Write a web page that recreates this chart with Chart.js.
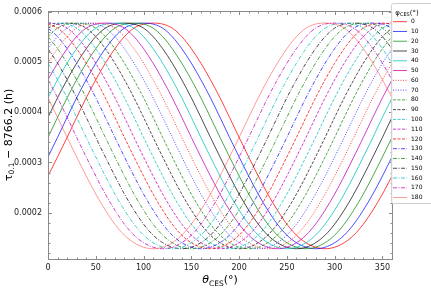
<!DOCTYPE html>
<html>
<head>
<meta charset="utf-8">
<script src="https://cdn.jsdelivr.net/npm/chart.js@4.4.1/dist/chart.umd.min.js"></script>
<style>
  html, body { margin: 0; padding: 0; background: #fff; }
  #wrap { width: 431px; height: 288px; }
</style>
</head>
<body>
<div id="wrap"><canvas id="chart"></canvas></div>
<script>
// theta_CES (deg) sample points
const theta = [0,10,20,30,40,50,60,70,80,90,100,110,120,130,140,150,160,170,180,
  190,200,210,220,230,240,250,260,270,280,290,300,310,320,330,340,350,360];

// phi_CES legend labels (deg)
const phiLabels = ['0','10','20','30','40','50','60','70','80','90','100','110','120','130','140','150','160','170','180'];

// tau_0.1 - 8766.2 (h), one array per phi_CES
const tau0 = [2.73e-4,3.11e-4,3.50e-4,3.90e-4,4.29e-4,4.65e-4,4.98e-4,5.27e-4,5.51e-4,5.68e-4,5.76e-4,5.78e-4,5.76e-4,5.68e-4,5.51e-4,5.27e-4,4.98e-4,4.65e-4,4.29e-4,3.90e-4,3.50e-4,3.11e-4,2.73e-4,2.37e-4,2.05e-4,1.77e-4,1.55e-4,1.40e-4,1.31e-4,1.28e-4,1.31e-4,1.40e-4,1.55e-4,1.77e-4,2.05e-4,2.37e-4,2.73e-4];
const tau10 = [3.11e-4,3.50e-4,3.90e-4,4.29e-4,4.65e-4,4.98e-4,5.27e-4,5.51e-4,5.68e-4,5.76e-4,5.78e-4,5.76e-4,5.68e-4,5.51e-4,5.27e-4,4.98e-4,4.65e-4,4.29e-4,3.90e-4,3.50e-4,3.11e-4,2.73e-4,2.37e-4,2.05e-4,1.77e-4,1.55e-4,1.40e-4,1.31e-4,1.28e-4,1.31e-4,1.40e-4,1.55e-4,1.77e-4,2.05e-4,2.37e-4,2.73e-4,3.11e-4];
const tau20 = [3.50e-4,3.90e-4,4.29e-4,4.65e-4,4.98e-4,5.27e-4,5.51e-4,5.68e-4,5.76e-4,5.78e-4,5.76e-4,5.68e-4,5.51e-4,5.27e-4,4.98e-4,4.65e-4,4.29e-4,3.90e-4,3.50e-4,3.11e-4,2.73e-4,2.37e-4,2.05e-4,1.77e-4,1.55e-4,1.40e-4,1.31e-4,1.28e-4,1.31e-4,1.40e-4,1.55e-4,1.77e-4,2.05e-4,2.37e-4,2.73e-4,3.11e-4,3.50e-4];
const tau30 = [3.90e-4,4.29e-4,4.65e-4,4.98e-4,5.27e-4,5.51e-4,5.68e-4,5.76e-4,5.78e-4,5.76e-4,5.68e-4,5.51e-4,5.27e-4,4.98e-4,4.65e-4,4.29e-4,3.90e-4,3.50e-4,3.11e-4,2.73e-4,2.37e-4,2.05e-4,1.77e-4,1.55e-4,1.40e-4,1.31e-4,1.28e-4,1.31e-4,1.40e-4,1.55e-4,1.77e-4,2.05e-4,2.37e-4,2.73e-4,3.11e-4,3.50e-4,3.90e-4];
const tau40 = [4.29e-4,4.65e-4,4.98e-4,5.27e-4,5.51e-4,5.68e-4,5.76e-4,5.78e-4,5.76e-4,5.68e-4,5.51e-4,5.27e-4,4.98e-4,4.65e-4,4.29e-4,3.90e-4,3.50e-4,3.11e-4,2.73e-4,2.37e-4,2.05e-4,1.77e-4,1.55e-4,1.40e-4,1.31e-4,1.28e-4,1.31e-4,1.40e-4,1.55e-4,1.77e-4,2.05e-4,2.37e-4,2.73e-4,3.11e-4,3.50e-4,3.90e-4,4.29e-4];
const tau50 = [4.65e-4,4.98e-4,5.27e-4,5.51e-4,5.68e-4,5.76e-4,5.78e-4,5.76e-4,5.68e-4,5.51e-4,5.27e-4,4.98e-4,4.65e-4,4.29e-4,3.90e-4,3.50e-4,3.11e-4,2.73e-4,2.37e-4,2.05e-4,1.77e-4,1.55e-4,1.40e-4,1.31e-4,1.28e-4,1.31e-4,1.40e-4,1.55e-4,1.77e-4,2.05e-4,2.37e-4,2.73e-4,3.11e-4,3.50e-4,3.90e-4,4.29e-4,4.65e-4];
const tau60 = [4.98e-4,5.27e-4,5.51e-4,5.68e-4,5.76e-4,5.78e-4,5.76e-4,5.68e-4,5.51e-4,5.27e-4,4.98e-4,4.65e-4,4.29e-4,3.90e-4,3.50e-4,3.11e-4,2.73e-4,2.37e-4,2.05e-4,1.77e-4,1.55e-4,1.40e-4,1.31e-4,1.28e-4,1.31e-4,1.40e-4,1.55e-4,1.77e-4,2.05e-4,2.37e-4,2.73e-4,3.11e-4,3.50e-4,3.90e-4,4.29e-4,4.65e-4,4.98e-4];
const tau70 = [5.27e-4,5.51e-4,5.68e-4,5.76e-4,5.78e-4,5.76e-4,5.68e-4,5.51e-4,5.27e-4,4.98e-4,4.65e-4,4.29e-4,3.90e-4,3.50e-4,3.11e-4,2.73e-4,2.37e-4,2.05e-4,1.77e-4,1.55e-4,1.40e-4,1.31e-4,1.28e-4,1.31e-4,1.40e-4,1.55e-4,1.77e-4,2.05e-4,2.37e-4,2.73e-4,3.11e-4,3.50e-4,3.90e-4,4.29e-4,4.65e-4,4.98e-4,5.27e-4];
const tau80 = [5.51e-4,5.68e-4,5.76e-4,5.78e-4,5.76e-4,5.68e-4,5.51e-4,5.27e-4,4.98e-4,4.65e-4,4.29e-4,3.90e-4,3.50e-4,3.11e-4,2.73e-4,2.37e-4,2.05e-4,1.77e-4,1.55e-4,1.40e-4,1.31e-4,1.28e-4,1.31e-4,1.40e-4,1.55e-4,1.77e-4,2.05e-4,2.37e-4,2.73e-4,3.11e-4,3.50e-4,3.90e-4,4.29e-4,4.65e-4,4.98e-4,5.27e-4,5.51e-4];
const tau90 = [5.68e-4,5.76e-4,5.78e-4,5.76e-4,5.68e-4,5.51e-4,5.27e-4,4.98e-4,4.65e-4,4.29e-4,3.90e-4,3.50e-4,3.11e-4,2.73e-4,2.37e-4,2.05e-4,1.77e-4,1.55e-4,1.40e-4,1.31e-4,1.28e-4,1.31e-4,1.40e-4,1.55e-4,1.77e-4,2.05e-4,2.37e-4,2.73e-4,3.11e-4,3.50e-4,3.90e-4,4.29e-4,4.65e-4,4.98e-4,5.27e-4,5.51e-4,5.68e-4];
const tau100 = [5.76e-4,5.78e-4,5.76e-4,5.68e-4,5.51e-4,5.27e-4,4.98e-4,4.65e-4,4.29e-4,3.90e-4,3.50e-4,3.11e-4,2.73e-4,2.37e-4,2.05e-4,1.77e-4,1.55e-4,1.40e-4,1.31e-4,1.28e-4,1.31e-4,1.40e-4,1.55e-4,1.77e-4,2.05e-4,2.37e-4,2.73e-4,3.11e-4,3.50e-4,3.90e-4,4.29e-4,4.65e-4,4.98e-4,5.27e-4,5.51e-4,5.68e-4,5.76e-4];
const tau110 = [5.78e-4,5.76e-4,5.68e-4,5.51e-4,5.27e-4,4.98e-4,4.65e-4,4.29e-4,3.90e-4,3.50e-4,3.11e-4,2.73e-4,2.37e-4,2.05e-4,1.77e-4,1.55e-4,1.40e-4,1.31e-4,1.28e-4,1.31e-4,1.40e-4,1.55e-4,1.77e-4,2.05e-4,2.37e-4,2.73e-4,3.11e-4,3.50e-4,3.90e-4,4.29e-4,4.65e-4,4.98e-4,5.27e-4,5.51e-4,5.68e-4,5.76e-4,5.78e-4];
const tau120 = [5.76e-4,5.68e-4,5.51e-4,5.27e-4,4.98e-4,4.65e-4,4.29e-4,3.90e-4,3.50e-4,3.11e-4,2.73e-4,2.37e-4,2.05e-4,1.77e-4,1.55e-4,1.40e-4,1.31e-4,1.28e-4,1.31e-4,1.40e-4,1.55e-4,1.77e-4,2.05e-4,2.37e-4,2.73e-4,3.11e-4,3.50e-4,3.90e-4,4.29e-4,4.65e-4,4.98e-4,5.27e-4,5.51e-4,5.68e-4,5.76e-4,5.78e-4,5.76e-4];
const tau130 = [5.68e-4,5.51e-4,5.27e-4,4.98e-4,4.65e-4,4.29e-4,3.90e-4,3.50e-4,3.11e-4,2.73e-4,2.37e-4,2.05e-4,1.77e-4,1.55e-4,1.40e-4,1.31e-4,1.28e-4,1.31e-4,1.40e-4,1.55e-4,1.77e-4,2.05e-4,2.37e-4,2.73e-4,3.11e-4,3.50e-4,3.90e-4,4.29e-4,4.65e-4,4.98e-4,5.27e-4,5.51e-4,5.68e-4,5.76e-4,5.78e-4,5.76e-4,5.68e-4];
const tau140 = [5.51e-4,5.27e-4,4.98e-4,4.65e-4,4.29e-4,3.90e-4,3.50e-4,3.11e-4,2.73e-4,2.37e-4,2.05e-4,1.77e-4,1.55e-4,1.40e-4,1.31e-4,1.28e-4,1.31e-4,1.40e-4,1.55e-4,1.77e-4,2.05e-4,2.37e-4,2.73e-4,3.11e-4,3.50e-4,3.90e-4,4.29e-4,4.65e-4,4.98e-4,5.27e-4,5.51e-4,5.68e-4,5.76e-4,5.78e-4,5.76e-4,5.68e-4,5.51e-4];
const tau150 = [5.27e-4,4.98e-4,4.65e-4,4.29e-4,3.90e-4,3.50e-4,3.11e-4,2.73e-4,2.37e-4,2.05e-4,1.77e-4,1.55e-4,1.40e-4,1.31e-4,1.28e-4,1.31e-4,1.40e-4,1.55e-4,1.77e-4,2.05e-4,2.37e-4,2.73e-4,3.11e-4,3.50e-4,3.90e-4,4.29e-4,4.65e-4,4.98e-4,5.27e-4,5.51e-4,5.68e-4,5.76e-4,5.78e-4,5.76e-4,5.68e-4,5.51e-4,5.27e-4];
const tau160 = [4.98e-4,4.65e-4,4.29e-4,3.90e-4,3.50e-4,3.11e-4,2.73e-4,2.37e-4,2.05e-4,1.77e-4,1.55e-4,1.40e-4,1.31e-4,1.28e-4,1.31e-4,1.40e-4,1.55e-4,1.77e-4,2.05e-4,2.37e-4,2.73e-4,3.11e-4,3.50e-4,3.90e-4,4.29e-4,4.65e-4,4.98e-4,5.27e-4,5.51e-4,5.68e-4,5.76e-4,5.78e-4,5.76e-4,5.68e-4,5.51e-4,5.27e-4,4.98e-4];
const tau170 = [4.65e-4,4.29e-4,3.90e-4,3.50e-4,3.11e-4,2.73e-4,2.37e-4,2.05e-4,1.77e-4,1.55e-4,1.40e-4,1.31e-4,1.28e-4,1.31e-4,1.40e-4,1.55e-4,1.77e-4,2.05e-4,2.37e-4,2.73e-4,3.11e-4,3.50e-4,3.90e-4,4.29e-4,4.65e-4,4.98e-4,5.27e-4,5.51e-4,5.68e-4,5.76e-4,5.78e-4,5.76e-4,5.68e-4,5.51e-4,5.27e-4,4.98e-4,4.65e-4];
const tau180 = [4.29e-4,3.90e-4,3.50e-4,3.11e-4,2.73e-4,2.37e-4,2.05e-4,1.77e-4,1.55e-4,1.40e-4,1.31e-4,1.28e-4,1.31e-4,1.40e-4,1.55e-4,1.77e-4,2.05e-4,2.37e-4,2.73e-4,3.11e-4,3.50e-4,3.90e-4,4.29e-4,4.65e-4,4.98e-4,5.27e-4,5.51e-4,5.68e-4,5.76e-4,5.78e-4,5.76e-4,5.68e-4,5.51e-4,5.27e-4,4.98e-4,4.65e-4,4.29e-4];

const series = [tau0, tau10, tau20, tau30, tau40, tau50, tau60, tau70, tau80, tau90,
  tau100, tau110, tau120, tau130, tau140, tau150, tau160, tau170, tau180];

// axis tick labels
const xTicks = [0, 50, 100, 150, 200, 250, 300, 350];
const yTicks = [0.0002, 0.0003, 0.0004, 0.0005, 0.0006];

// line styles (matplotlib r b g k c m cycle)
const palette = ['rgba(255,0,0,0.75)', 'rgba(0,0,255,0.7)', 'rgba(0,128,0,0.7)',
  'rgba(0,0,0,0.7)', 'rgba(0,191,191,0.75)', 'rgba(191,0,191,0.75)'];
function styleFor(i) {
    let color = palette[i % 6];
    let dash = [];
    if (i === 6 || i === 7) dash = [1, 1.5];
    else if (i >= 8 && i <= 12) dash = [3, 1.5];
    else if (i >= 13 && i <= 17) dash = [4, 1.5, 1, 1.5];
    else if (i === 18) color = 'rgba(255,0,0,0.4)';
    return { color, dash };
}

const FONT = "'DejaVu Sans', sans-serif";

// frame, inward ticks, axis titles and the legend
const overlay = {
    id: 'overlay',
    afterDraw(chart) {
        const ctx = chart.ctx;
        const a = chart.chartArea;
        const xs = chart.scales.x, ys = chart.scales.y;
        const L = Math.round(a.left) + 0.5, R = Math.round(a.right) + 0.5;
        const T = Math.round(a.top) + 0.5, B = Math.round(a.bottom) + 0.5;
        ctx.save();
        ctx.strokeStyle = '#8a8a8a';
        ctx.lineWidth = 1;
        ctx.beginPath();
        for (let v = 0; v <= 360; v += 10) {
            const px = Math.round(xs.getPixelForValue(v)) + 0.5;
            const len = v % 50 === 0 ? 3.5 : 2;
            ctx.moveTo(px, B); ctx.lineTo(px, B - len);
            ctx.moveTo(px, T); ctx.lineTo(px, T + len);
        }
        for (let k = 6; k <= 30; k++) {
            const py = Math.round(ys.getPixelForValue(k * 2e-5)) + 0.5;
            const len = k % 5 === 0 ? 3.5 : 2;
            ctx.moveTo(L, py); ctx.lineTo(L + len, py);
            ctx.moveTo(R, py); ctx.lineTo(R - len, py);
        }
        ctx.stroke();
        ctx.strokeRect(L, T, R - L, B - T);

        // x title: theta_CES(°)
        ctx.fillStyle = '#000';
        ctx.textBaseline = 'alphabetic';
        const parts = (list) => {
            let w = 0;
            list.forEach(p => { ctx.font = p.font; w += ctx.measureText(p.t).width; });
            return w;
        };
        const xt = [
            { t: 'θ', font: `italic 11px ${FONT}`, dy: 0 },
            { t: 'CES', font: `7.5px ${FONT}`, dy: 2.5 },
            { t: '(°)', font: `11px ${FONT}`, dy: 0 }
        ];
        let cx = (a.left + a.right) / 2 - parts(xt) / 2;
        xt.forEach(p => { ctx.font = p.font; ctx.fillText(p.t, cx, 283 + p.dy); cx += ctx.measureText(p.t).width; });

        // y title: tau_0.1 − 8766.2 (h)
        const yt = [
            { t: 'τ', font: `11px ${FONT}`, dy: 0 },
            { t: '0.1', font: `7.5px ${FONT}`, dy: 2.5 },
            { t: ' − 8766.2 (h)', font: `11px ${FONT}`, dy: 0 }
        ];
        ctx.save();
        ctx.translate(11.5, (a.top + a.bottom) / 2);
        ctx.rotate(-Math.PI / 2);
        let cy = -parts(yt) / 2;
        yt.forEach(p => { ctx.font = p.font; ctx.fillText(p.t, cy, p.dy); cy += ctx.measureText(p.t).width; });
        ctx.restore();

        // legend
        const lx = 391, ly = 3, lw = 46, lh = 200;
        ctx.fillStyle = 'rgba(255,255,255,0.9)';
        ctx.strokeStyle = '#d0d0d0';
        ctx.beginPath();
        ctx.roundRect(lx + 0.5, ly + 0.5, lw, lh, 2);
        ctx.fill();
        ctx.stroke();
        ctx.fillStyle = '#000';
        const lt = [
            { t: 'φ', font: `7px ${FONT}`, dy: 0 },
            { t: 'CES', font: `5px ${FONT}`, dy: 1.5 },
            { t: '(°)', font: `7px ${FONT}`, dy: 0 }
        ];
        let tx = 407 - parts(lt) / 2;
        lt.forEach(p => { ctx.font = p.font; ctx.fillText(p.t, tx, 14.5 + p.dy); tx += ctx.measureText(p.t).width; });
        ctx.font = `6px ${FONT}`;
        ctx.textBaseline = 'middle';
        phiLabels.forEach((lab, i) => {
            const yy = 21.7 + i * 9.77;
            const st = styleFor(i);
            ctx.strokeStyle = st.color;
            ctx.setLineDash(st.dash);
            ctx.lineWidth = 1;
            ctx.beginPath();
            ctx.moveTo(393, yy); ctx.lineTo(407, yy);
            ctx.stroke();
            ctx.setLineDash([]);
            ctx.fillStyle = '#000';
            ctx.fillText(lab, 411, yy);
        });
        ctx.restore();
    }
};

const datasets = series.map((vals, i) => {
    const st = styleFor(i);
    return {
        label: phiLabels[i],
        data: theta.map((t, j) => ({ x: t, y: vals[j] })),
        borderColor: st.color,
        borderDash: st.dash,
        borderWidth: 1,
        pointRadius: 0,
        fill: false,
        cubicInterpolationMode: 'monotone',
        order: series.length - i
    };
});

new Chart(document.getElementById('chart'), {
    type: 'line',
    data: { datasets },
    options: {
        responsive: true,
        maintainAspectRatio: false,
        animation: false,
        devicePixelRatio: 1,
        layout: { padding: { left: 0, right: 39, top: 5, bottom: 0 } },
        plugins: { legend: { display: false }, tooltip: { enabled: false } },
        scales: {
            x: {
                type: 'linear',
                min: 0,
                max: 360,
                afterBuildTicks: s => { s.ticks = xTicks.map(v => ({ value: v })); },
                afterFit: s => { s.height = 29; },
                grid: { display: false, drawTicks: false },
                border: { display: false },
                ticks: { font: { family: FONT, size: 8 }, color: '#222', padding: 4, maxRotation: 0 }
            },
            y: {
                type: 'linear',
                min: 0.0001075,
                max: 0.0006025,
                afterBuildTicks: s => { s.ticks = yTicks.map(v => ({ value: v })); },
                afterFit: s => { s.width = 48; },
                grid: { display: false, drawTicks: false },
                border: { display: false },
                ticks: { font: { family: FONT, size: 8 }, color: '#222', padding: 6, callback: v => v.toFixed(4) }
            }
        }
    },
    plugins: [overlay]
});
</script>
</body>
</html>
